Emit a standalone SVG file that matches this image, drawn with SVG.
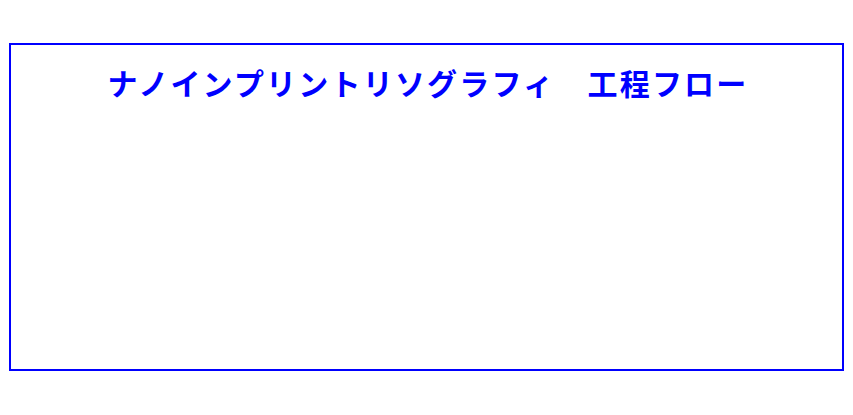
<svg xmlns="http://www.w3.org/2000/svg" width="853" height="415" viewBox="0 0 853 415">
<style>
.frame{fill:none;stroke:#0000ff;stroke-width:2}
.title{font-family:"Noto Sans CJK JP","Noto Sans CJK SC",sans-serif;font-size:30px;font-weight:bold;fill:#0000ff;text-anchor:middle;letter-spacing:2.2px}
</style>
<rect width="853" height="415" fill="#ffffff"/>
<g id="frame">
<rect class="frame" x="10" y="44" width="833" height="326"/>
<text class="title" x="428" y="95">ナノインプリントリソグラフィ　工程フロー</text>
</g>
<g id="connectors"/>
</svg>
